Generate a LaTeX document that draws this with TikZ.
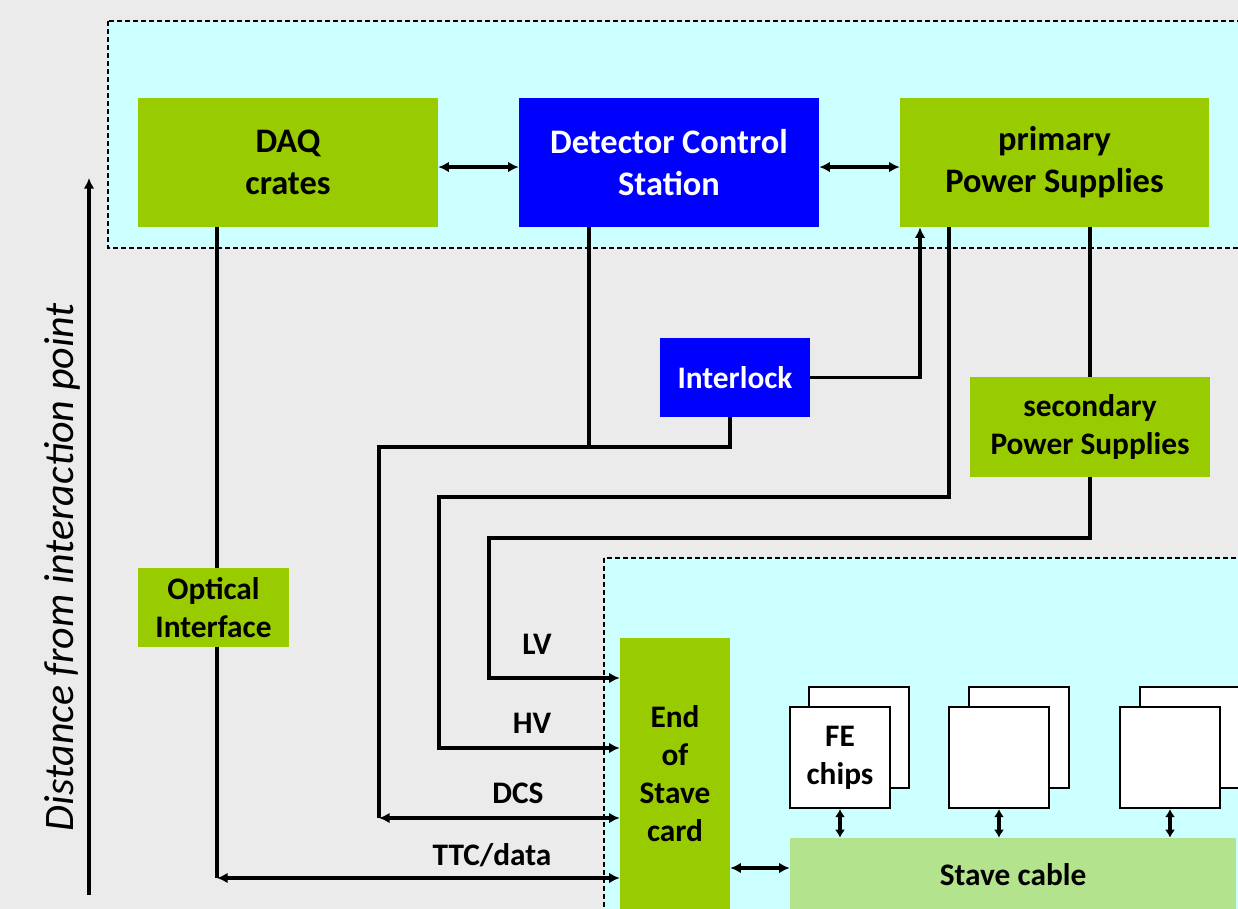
\documentclass[tikz,border=0pt]{standalone}
\usepackage{fontspec}
\setmainfont{Carlito}
\usetikzlibrary{arrows.meta}
\definecolor{olv}{HTML}{99CC00}
\definecolor{bluebox}{HTML}{0000FF}
\definecolor{cyanbg}{HTML}{CCFFFF}
\definecolor{graybg}{HTML}{EBEBEB}
\definecolor{cablegreen}{HTML}{B3E38C}
\begin{document}
\begin{tikzpicture}[x=0.75pt,y=-0.75pt,
  conn/.style={line width=2.6pt},
  arr/.style={conn,-{Latex[length=8pt,width=8pt]}},
  dbl/.style={conn,{Latex[length=8pt,width=8pt]}-{Latex[length=8pt,width=8pt]}},
  dblsm/.style={conn,{Latex[length=6pt,width=7.5pt]}-{Latex[length=6pt,width=7.5pt]}},
  region/.style={fill=cyanbg, draw=black, line width=0.9pt, dash pattern=on 3.5pt off 2.5pt},
  smallfont/.style={font=\bfseries\fontsize{23.5}{28.5}\selectfont},
  bigfont/.style={font=\bfseries\fontsize{25.8}{31.5}\selectfont},
  gbox/.style={fill=olv, inner sep=0pt, align=center, smallfont},
  bigg/.style={fill=olv, inner sep=0pt, align=center, bigfont, minimum height=96.75pt},
  bigb/.style={fill=bluebox, text=white, inner sep=0pt, align=center, bigfont, minimum height=96.75pt},
  chip/.style={fill=white, draw=black, line width=1.6pt, minimum width=75pt, minimum height=75.75pt, inner sep=0pt, align=center, smallfont},
  lbl/.style={smallfont, inner sep=0pt}]
\useasboundingbox (0,0) rectangle (1238,909);
\clip (0,0) rectangle (1238,909);
\fill[graybg] (0,0) rectangle (1238,909);
\draw[region] (108,21) rectangle (1260,248);
\draw[region] (604,558) rectangle (1260,930);

% top row
\node[bigg, minimum width=225pt] (daq) at (288,162.5) {DAQ\\crates};
\node[bigb, minimum width=225pt] (dcs) at (669,162.5) {Detector Control\\Station};
\node[bigg, minimum width=231.75pt] (pps) at (1054.5,162.5) {primary\\Power Supplies};

% middle
\node[gbox, fill=bluebox, text=white, minimum width=112.5pt, minimum height=59.25pt] (il) at (735,377.5) {Interlock};
\node[gbox, minimum width=180pt, minimum height=75pt] (sps) at (1090,427) {secondary\\Power Supplies};

% bottom
\node[gbox, minimum width=82.5pt, minimum height=203.25pt] (eos) at (675,773.5) {End\\of\\Stave\\card};
\node[gbox, fill=cablegreen, minimum width=334.5pt, minimum height=55.5pt] (cable) at (1013,875) {Stave cable};

\node[chip] (fe1b) at (859,737.5) {};
\node[chip] (fe1) at (840,757.5) {FE\\chips};
\node[chip] (fe2b) at (1019,737.5) {};
\node[chip] (fe2) at (999,757.5) {};
\node[chip] (fe3b) at (1190,737.5) {};
\node[chip] (fe3) at (1170,757.5) {};

% axis
\coordinate (axB) at (89,895);
\coordinate (axT) at (89,178);
\draw[arr] (axB) -- (axT);
\node[rotate=90, inner sep=0pt, font=\itshape\fontsize{31.5}{36}\selectfont] (axl) at (62,567) {Distance from interaction point};

% top arrows
\draw[dbl] ([yshift=-3.4pt]daq.east) -- ([yshift=-3.4pt]dcs.west);
\draw[dbl] ([yshift=-3.4pt]dcs.east) -- ([yshift=-3.4pt]pps.west);

% TTC/data
\coordinate (ttc) at (217,878);
\draw[conn] (daq.south -| ttc) -- (ttc);
\draw[dbl] (ttc) -- (eos.west |- ttc);
\node[gbox, minimum width=113.25pt, minimum height=59.25pt] (opt) at (213.5,607.5) {Optical\\Interface};

% DCS
\coordinate (dcsJ) at (589,447);
\coordinate (ilJ) at (730,447);
\coordinate (dcsL) at (379,447);
\coordinate (dcsB) at (379,818);
\draw[conn] (dcs.south -| dcsJ) -- (dcsJ);
\draw[conn] (il.south -| ilJ) -- (ilJ) -- (dcsL) -- (dcsB);
\draw[dbl] (dcsB) -- (eos.west |- dcsB);

% Interlock -> primary PS
\coordinate (ilUp) at (920,377.5);
\draw[arr] (il.east) -- (ilUp) -- (pps.south -| ilUp);

% HV
\coordinate (hv1) at (949,497);
\coordinate (hv2) at (439,497);
\coordinate (hv3) at (439,748);
\draw[arr] (pps.south -| hv1) -- (hv1) -- (hv2) -- (hv3) -- (eos.west |- hv3);

% primary -> secondary
\draw[conn] (pps.south -| sps.north) -- (sps.north);

% LV
\coordinate (lv1) at (1090,538);
\coordinate (lv2) at (489,538);
\coordinate (lv3) at (489,678);
\draw[arr] (sps.south) -- (lv1) -- (lv2) -- (lv3) -- (eos.west |- lv3);

% labels
\node[lbl] (lvl) at (537,644) {LV};
\node[lbl] (hvl) at (532,723) {HV};
\node[lbl] (dcsl) at (518,793) {DCS};
\node[lbl] (ttcl) at (492,855) {TTC/data};

% end of stave <-> cable
\coordinate (ec) at (760,868);
\draw[dbl] (eos.east |- ec) -- (cable.west |- ec);

% FE <-> cable
\draw[dblsm] (fe1.south) -- (cable.north -| fe1.south);
\draw[dblsm] (fe2.south) -- (cable.north -| fe2.south);
\draw[dblsm] (fe3.south) -- (cable.north -| fe3.south);
\end{tikzpicture}
\end{document}
